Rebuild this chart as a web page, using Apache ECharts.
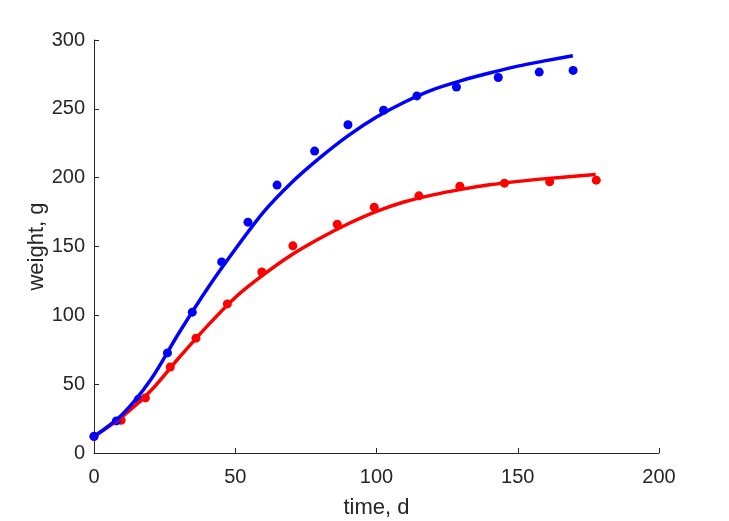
<!DOCTYPE html>
<html>
<head>
<meta charset="utf-8">
<script src="https://cdn.jsdelivr.net/npm/echarts@6/dist/echarts.min.js"></script>
<style>html,body{margin:0;padding:0;background:#fff}#c{width:729px;height:521px}</style>
</head>
<body>
<div id="c"></div>
<script>
// Observed data points
var blueX = [0, 7.9, 15.7, 26, 34.8, 45.2, 54.5, 64.8, 78.1, 89.9, 102.5, 114.3, 128.3, 143.1, 157.6, 169.6];
var blueY = [12.1, 23.3, 39, 72.7, 102.3, 138.8, 167.7, 194.6, 219.3, 238.4, 249, 259.4, 265.8, 272.8, 276.7, 277.9];
var redX = [0, 9.6, 18.2, 27, 36.1, 47.2, 59.4, 70.4, 86.1, 99.2, 115, 129.5, 145.3, 161.3, 177.8];
var redY = [12, 23.8, 40, 62.5, 83.4, 108.3, 131.5, 150.5, 166.2, 178.6, 186.8, 193.8, 196, 197, 198.2];
// Fitted curves
var blueFitX = [0, 10, 20, 30, 40, 50, 60, 70, 80, 90, 100, 110, 120, 130, 140, 150, 160, 169.5];
var blueFitY = [12, 28, 53, 87, 119, 148, 175, 196.5, 214.5, 230.5, 244, 255, 264, 270.5, 276, 281, 285, 288.5];
var redFitX = [0, 10, 20, 30, 40, 50, 60, 70, 80, 90, 100, 110, 120, 130, 140, 150, 160, 170, 177.6];
var redFitY = [12, 26.5, 45, 69, 92, 113, 129.5, 144, 156, 166.5, 175.5, 182.5, 187.5, 191.5, 194.8, 197.3, 199.3, 201, 202.3];

function zip(a, b) { return a.map(function (v, i) { return [v, b[i]]; }); }

var axisColor = '#262626';
var font = '"Liberation Sans", Arial, sans-serif';
var chart = echarts.init(document.getElementById('c'));
chart.setOption({
  animation: false,
  grid: { left: 94, right: 70, top: 40, bottom: 68, outerBoundsMode: 'none', containLabel: false },
  xAxis: {
    type: 'value', min: 0, max: 200, interval: 50,
    name: 'time, d', nameLocation: 'middle', nameGap: 44, nameMoveOverlap: false,
    nameTextStyle: { color: axisColor, fontSize: 22, fontFamily: font },
    axisLine: { show: true, lineStyle: { color: axisColor, width: 1 } },
    axisTick: { show: true, inside: true, length: 5, lineStyle: { color: axisColor } },
    axisLabel: { color: axisColor, fontSize: 20, fontFamily: font, margin: 14 },
    splitLine: { show: false }
  },
  yAxis: {
    type: 'value', min: 0, max: 300, interval: 50,
    name: 'weight, g', nameLocation: 'middle', nameGap: 46, nameMoveOverlap: false,
    nameTextStyle: { color: axisColor, fontSize: 22, fontFamily: font },
    axisLine: { show: true, lineStyle: { color: axisColor, width: 1 } },
    axisTick: { show: true, inside: true, length: 5, lineStyle: { color: axisColor } },
    axisLabel: { color: axisColor, fontSize: 20, fontFamily: font, margin: 9 },
    splitLine: { show: false }
  },
  series: [
    { type: 'scatter', data: zip(redX, redY), symbol: 'circle', symbolSize: 9,
      itemStyle: { color: '#ff0000', opacity: 1 } },
    { type: 'line', data: zip(redFitX, redFitY), smooth: 0.3, showSymbol: false,
      lineStyle: { color: '#ff0000', width: 3.5, cap: 'butt' } },
    { type: 'scatter', data: zip(blueX, blueY), symbol: 'circle', symbolSize: 9,
      itemStyle: { color: '#0000ff', opacity: 1 } },
    { type: 'line', data: zip(blueFitX, blueFitY), smooth: 0.3, showSymbol: false,
      lineStyle: { color: '#0000ff', width: 3.5, cap: 'butt' } }
  ]
});
</script>
</body>
</html>
